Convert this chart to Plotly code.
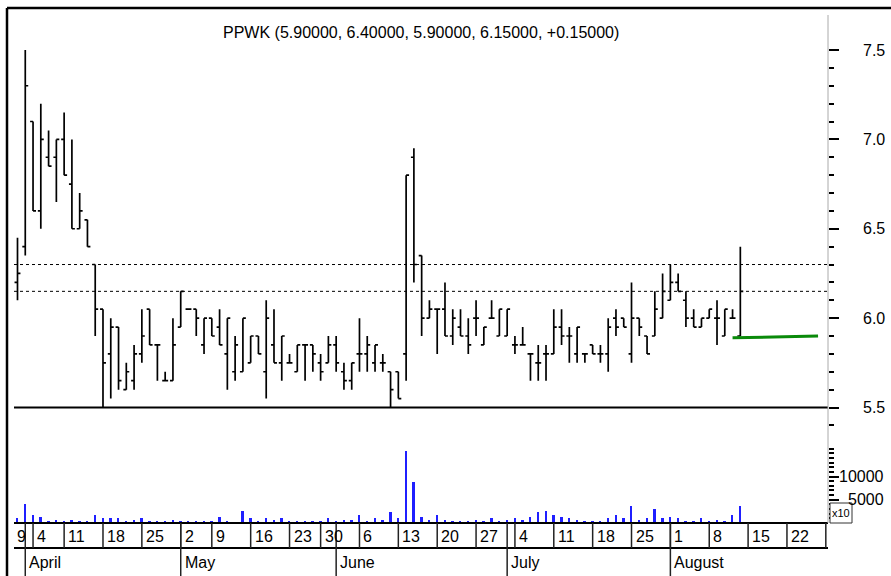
import pandas as pd
import plotly.graph_objects as go

# ---------------- data ----------------
TICKER = "PPWK"
FIRST_BAR = "2016-03-31"
CAL_START, CAL_END = "2016-03-29", "2016-08-31"
NO_TRADE_DAYS = ["2016-04-08", "2016-05-06", "2016-05-27"]

OPEN = [6.20, 6.40, 7.10, 6.60, 6.90, 6.90, 7.00, 6.75, 6.50, 6.55,
        6.30, 6.05, 5.80, 5.95, 5.60, 5.65, 5.80, 6.05, 5.85, 5.65,
        5.65, 5.95, 6.05, 6.05, 5.85, 6.00, 5.95, 5.80, 5.70, 5.70,
        5.75, 5.90, 5.70, 5.85, 5.75, 5.75, 5.70, 5.85, 5.85, 5.75,
        5.75, 5.85, 5.70, 5.65, 5.80, 5.80, 5.75, 5.75, 5.70, 5.70,
        5.80, 6.90, 6.35, 6.00, 6.05, 6.05, 5.90, 5.95, 5.90, 6.00,
        5.85, 6.00, 5.90, 5.90, 5.85, 5.85, 5.80, 5.75, 5.80, 5.80,
        5.95, 5.90, 5.80, 5.80, 5.85, 5.80, 5.80, 6.00, 6.00, 5.80,
        6.00, 5.90, 5.90, 6.00, 6.10, 6.20, 6.10, 6.00, 5.95, 6.00,
        6.00, 5.90, 6.00, 5.90]
HIGH = [6.45, 7.50, 7.10, 7.20, 7.05, 7.00, 7.15, 7.00, 6.70, 6.55,
        6.30, 6.05, 6.00, 5.95, 5.75, 5.85, 6.05, 6.05, 5.85, 5.70,
        6.00, 6.15, 6.05, 6.05, 6.00, 6.00, 6.05, 6.00, 5.90, 6.00,
        5.90, 5.90, 6.10, 6.05, 5.90, 5.80, 5.85, 5.85, 5.85, 5.80,
        5.90, 5.90, 5.75, 5.75, 6.00, 5.90, 5.85, 5.80, 5.70, 5.70,
        6.80, 6.95, 6.35, 6.10, 6.05, 6.20, 6.05, 6.05, 6.00, 6.10,
        5.95, 6.10, 6.05, 6.05, 5.90, 5.95, 5.80, 5.85, 5.85, 6.05,
        6.05, 5.95, 5.95, 5.80, 5.85, 5.85, 6.00, 6.05, 6.00, 6.20,
        6.00, 5.90, 6.15, 6.25, 6.30, 6.25, 6.15, 6.05, 6.00, 6.05,
        6.10, 6.05, 6.05, 6.40]
LOW = [6.10, 6.35, 6.60, 6.50, 6.85, 6.65, 6.80, 6.50, 6.50, 6.40,
       5.90, 5.50, 5.55, 5.60, 5.60, 5.60, 5.75, 5.85, 5.65, 5.65,
       5.65, 5.95, 6.05, 5.90, 5.80, 5.90, 5.85, 5.60, 5.65, 5.70,
       5.75, 5.80, 5.55, 5.75, 5.65, 5.75, 5.70, 5.65, 5.70, 5.65,
       5.75, 5.70, 5.60, 5.60, 5.70, 5.70, 5.70, 5.70, 5.50, 5.55,
       5.65, 6.20, 5.90, 6.00, 5.80, 5.90, 5.85, 5.90, 5.80, 5.90,
       5.85, 6.00, 5.90, 5.90, 5.80, 5.85, 5.65, 5.65, 5.65, 5.80,
       5.85, 5.75, 5.75, 5.75, 5.80, 5.75, 5.70, 5.90, 5.95, 5.75,
       5.90, 5.80, 5.90, 6.00, 6.10, 6.15, 5.95, 5.95, 5.95, 6.00,
       5.85, 5.90, 6.00, 5.90]
CLOSE = [6.25, 7.30, 6.60, 7.00, 6.85, 7.00, 6.80, 6.50, 6.60, 6.40,
         6.05, 5.75, 5.95, 5.65, 5.70, 5.80, 5.90, 5.85, 5.85, 5.65,
         5.85, 6.15, 6.05, 6.00, 6.00, 5.90, 5.85, 6.00, 5.85, 6.00,
         5.90, 5.80, 6.00, 5.75, 5.90, 5.75, 5.85, 5.85, 5.80, 5.70,
         5.85, 5.75, 5.65, 5.75, 5.80, 5.85, 5.85, 5.75, 5.60, 5.55,
         6.80, 6.30, 6.00, 6.05, 6.05, 5.90, 6.00, 5.90, 5.85, 6.00,
         5.95, 6.00, 6.05, 6.05, 5.85, 5.85, 5.80, 5.75, 5.80, 5.95,
         5.90, 5.90, 5.95, 5.80, 5.80, 5.80, 5.95, 5.95, 5.95, 6.00,
         5.95, 5.80, 6.05, 6.15, 6.20, 6.15, 6.00, 5.95, 6.00, 6.05,
         6.00, 6.05, 6.00, 6.15]
VOLUME = [1000, 4100, 1650, 1300, 300, 700, 300, 700, 300, 300,
          1650, 1000, 1000, 1000, 300, 700, 1000, 300, 300, 300,
          700, 300, 300, 300, 300, 300, 1300, 300, 200, 2650,
          1000, 300, 1000, 700, 1000, 300, 300, 300, 300, 300,
          1000, 300, 700, 700, 1650, 300, 1000, 700, 2400, 1000,
          15400, 8900, 1300, 700, 1650, 700, 300, 300, 300, 700,
          300, 1000, 300, 700, 1000, 700, 1300, 2400, 2650, 1650,
          1300, 1000, 700, 300, 300, 300, 1000, 1650, 1000, 3700,
          700, 1000, 3100, 1000, 1300, 1000, 300, 300, 1000, 300,
          700, 300, 1650, 3700]

H_DOTTED = [6.30, 6.15]
H_SOLID = [5.50]
TREND_DATES = ["2016-08-11", "2016-08-26"]
TREND_VALUES = [5.89, 5.90]

PRICE_TICKS = [5.5, 6.0, 6.5, 7.0, 7.5]
PRICE_MINOR = [5.4, 5.6, 5.7, 5.8, 5.9, 6.1, 6.2, 6.3, 6.4, 6.6, 6.7, 6.8, 6.9,
               7.1, 7.2, 7.3, 7.4]
VOL_TICKS = [5000, 10000]
VOL_TICK_LABELS = ["5000", "10000"]
VOL_MINOR = [v for v in range(1000, 17000, 1000) if v not in (5000, 10000)]

WEEK_DATES = ["2016-03-29", "2016-04-04", "2016-04-11", "2016-04-18", "2016-04-25",
              "2016-05-02", "2016-05-09", "2016-05-16", "2016-05-23", "2016-05-30",
              "2016-06-06", "2016-06-13", "2016-06-20", "2016-06-27", "2016-07-04",
              "2016-07-11", "2016-07-18", "2016-07-25", "2016-08-01", "2016-08-08",
              "2016-08-15", "2016-08-22", "2016-08-29"]
WEEK_LABELS = ["29", "4", "11", "18", "25", "2", "9", "16", "23", "30", "6", "13",
               "20", "27", "4", "11", "18", "25", "1", "8", "15", "22", "29"]
MONTH_DATES = ["2016-04-01", "2016-05-02", "2016-06-01", "2016-07-01", "2016-08-01"]
MONTH_LABELS = ["April", "May", "June", "July", "August"]

# ---------------- trading-day calendar -> x positions ----------------
cal = [d.strftime("%Y-%m-%d") for d in pd.bdate_range(CAL_START, CAL_END)
       if d.strftime("%Y-%m-%d") not in NO_TRADE_DAYS]
pos = {d: i for i, d in enumerate(cal)}
i0 = pos[FIRST_BAR]
dates = cal[i0:i0 + len(OPEN)]
xs = [pos[d] for d in dates]

X_RANGE = [1.55, 106.28]
Y_RANGE = [4.854, 7.735]
V_RANGE = [0, 110750]

FONT = "Liberation Sans, Arial, sans-serif"
FS = 16

fig = go.Figure()
fig.add_trace(go.Bar(x=xs, y=VOLUME, yaxis="y2", width=0.24,
                     marker=dict(color="#1f1fff", line=dict(width=0)),
                     hoverinfo="skip", showlegend=False))
fig.add_trace(go.Ohlc(x=xs, open=OPEN, high=HIGH, low=LOW, close=CLOSE,
                      increasing=dict(line=dict(color="black", width=1.7)),
                      decreasing=dict(line=dict(color="black", width=1.7)),
                      tickwidth=0.38, showlegend=False))
fig.add_trace(go.Scatter(x=[pos[d] for d in TREND_DATES], y=TREND_VALUES,
                         mode="lines", line=dict(color="#0a8a0a", width=3),
                         showlegend=False, hoverinfo="skip"))

shapes = []
for v in H_DOTTED:
    shapes.append(dict(type="line", xref="paper", x0=0, x1=1, yref="y", y0=v, y1=v,
                       line=dict(color="black", width=1, dash="dot")))
for v in H_SOLID:
    shapes.append(dict(type="line", xref="paper", x0=0, x1=1, yref="y", y0=v, y1=v,
                       line=dict(color="black", width=2)))

PH = 515.0  # plot height in px
PW = 814.0  # plot width in px
row1 = -25 / PH
bottom = -53 / PH
for yy in (0, row1):
    shapes.append(dict(type="line", xref="paper", x0=0, x1=1, yref="paper", y0=yy, y1=yy,
                       line=dict(color="black", width=2)))
annotations = []
for d, lab in zip(WEEK_DATES, WEEK_LABELS):
    x = pos[d]
    if x < X_RANGE[0]:
        annotations.append(dict(xref="paper", x=0.001, yref="paper", y=row1 / 2 - 0.002,
                                text=lab[-1], showarrow=False, xanchor="left",
                                yanchor="middle", font=dict(family=FONT, size=FS, color="black")))
        continue
    shapes.append(dict(type="line", xref="x", x0=x, x1=x, yref="paper", y0=0, y1=row1,
                       line=dict(color="#222", width=1.5)))
    if x + 0.6 < X_RANGE[1]:
        annotations.append(dict(xref="x", x=x, xshift=2, yref="paper", y=row1 / 2 - 0.002,
                                text=lab, showarrow=False, xanchor="left", yanchor="middle",
                                font=dict(family=FONT, size=FS, color="black")))
for d, lab in zip(MONTH_DATES, MONTH_LABELS):
    x = pos[d]
    shapes.append(dict(type="line", xref="x", x0=x, x1=x, yref="paper", y0=0, y1=bottom,
                       line=dict(color="#222", width=1.5)))
    annotations.append(dict(xref="x", x=x, xshift=2, yref="paper", y=(row1 + bottom) / 2,
                            text=lab, showarrow=False, xanchor="left", yanchor="middle",
                            font=dict(family=FONT, size=FS, color="black")))

# frame
shapes.append(dict(type="line", xref="paper", x0=-7 / PW, x1=-7 / PW, yref="paper",
                   y0=bottom, y1=1.0, line=dict(color="black", width=2.5)))
shapes.append(dict(type="line", xref="paper", x0=-7 / PW, x1=877 / PW, yref="paper",
                   y0=1.0, y1=1.0, line=dict(color="black", width=2.5)))
# right axis line
shapes.append(dict(type="line", xref="paper", x0=1, x1=1, yref="paper",
                   y0=0, y1=(523 - 15) / PH, line=dict(color="#aaaaaa", width=1)))
# x10 box
shapes.append(dict(type="rect", xref="paper", x0=816 / PW, x1=838 / PW, yref="paper",
                   y0=0, y1=20 / PH, line=dict(color="#333", width=1), fillcolor="white"))
annotations.append(dict(xref="paper", x=827 / PW, yref="paper", y=10 / PH, text="x10",
                        showarrow=False, xanchor="center", yanchor="middle",
                        font=dict(family=FONT, size=11, color="black")))

for v in PRICE_TICKS:
    annotations.append(dict(xref="paper", x=873 / PW, yref="y", y=v, text=f"{v:.1f}",
                            showarrow=False, xanchor="right", yanchor="middle",
                            font=dict(family=FONT, size=FS, color="black")))
for v, lab in zip(VOL_TICKS, VOL_TICK_LABELS):
    annotations.append(dict(xref="paper", x=872 / PW, yref="y2", y=v, text=lab,
                            showarrow=False, xanchor="right", yanchor="middle",
                            font=dict(family=FONT, size=FS, color="black")))

chg = CLOSE[-1] - CLOSE[-2]
title = f"{TICKER} ({OPEN[-1]:.5f}, {HIGH[-1]:.5f}, {LOW[-1]:.5f}, {CLOSE[-1]:.5f}, {chg:+.5f})"
annotations.append(dict(xref="paper", x=0.5, yref="paper", y=(523 - 32) / PH, text=title,
                        showarrow=False, xanchor="center", yanchor="middle",
                        font=dict(family=FONT, size=FS, color="black")))

fig.update_layout(
    width=891, height=576, autosize=False,
    margin=dict(l=14, r=63, t=8, b=53, pad=0),
    paper_bgcolor="white", plot_bgcolor="white",
    showlegend=False, bargap=0,
    shapes=shapes, annotations=annotations,
    xaxis=dict(range=X_RANGE, showticklabels=False, ticks="", showgrid=False,
               zeroline=False, showline=False, rangeslider=dict(visible=False)),
    yaxis=dict(range=Y_RANGE, side="right", showticklabels=False, showgrid=False,
               zeroline=False, showline=False, tickvals=PRICE_TICKS, ticks="outside",
               ticklen=10, tickwidth=2, tickcolor="black",
               minor=dict(tickvals=PRICE_MINOR, ticks="outside", ticklen=5, tickwidth=2,
                          tickcolor="black", showgrid=False)),
    yaxis2=dict(range=V_RANGE, side="right", overlaying="y", anchor="x",
                showticklabels=False, showgrid=False, zeroline=False, showline=False,
                tickvals=VOL_TICKS, ticks="outside", ticklen=10, tickwidth=2,
                tickcolor="black",
                minor=dict(tickvals=VOL_MINOR, ticks="outside", ticklen=5, tickwidth=2,
                           tickcolor="black", showgrid=False)),
)

fig.write_html("out.html", config={"displayModeBar": False},
               post_script="document.body.style.margin='0';document.body.style.overflow='hidden';")
